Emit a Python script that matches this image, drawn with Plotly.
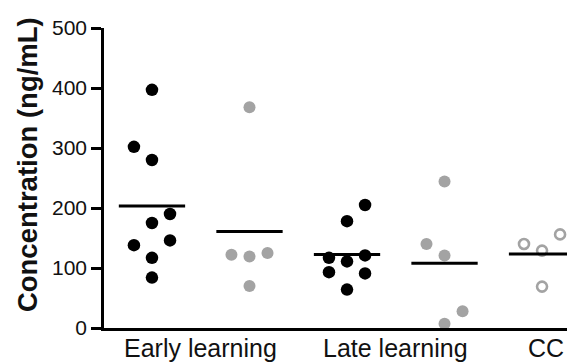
import numpy as np
import plotly.graph_objects as go

# ---- data ----
group_labels = ["Early learning", "Late learning", "CC"]
early_black = [397, 302, 280, 190, 175, 138, 146, 117, 84]
early_gray = [368, 122, 119, 125, 70]
late_black = [205, 178, 117, 111, 121, 93, 91, 64]
late_gray = [244, 140, 121, 28, 7]
cc_open = [156, 140, 129, 69]
y_ticks = [0, 100, 200, 300, 400, 500]

# ---- layout helpers (positions / styles) ----
centers = [0, 1, 2, 3, 4]
label_pos = [0.5, 2.5, 4.04]
jit = 0.185
offsets = [
    [0, -1, 0, 1, 0, -1, 1, 0, 0],
    [0, -1, 0, 1, 0],
    [1, 0, -1, 0, 1, -1, 1, 0],
    [0, -1, 0, 1, 0],
    [1, -1, 0, 0],
]
series = [early_black, early_gray, late_black, late_gray, cc_open]
BLACK = "#000000"
GRAY = "#a3a3a3"
styles = [
    dict(symbol="circle", size=12.5, color=BLACK),
    dict(symbol="circle", size=12, color=GRAY),
    dict(symbol="circle", size=12.5, color=BLACK),
    dict(symbol="circle", size=12, color=GRAY),
    dict(symbol="circle-open", size=10, color=GRAY, line=dict(width=2.6, color=GRAY)),
]

fig = go.Figure()
for c, vals, offs, st in zip(centers, series, offsets, styles):
    xs = [c + o * jit for o in offs]
    fig.add_trace(go.Scatter(x=xs, y=vals, mode="markers", marker=st,
                             showlegend=False, cliponaxis=False, hoverinfo="y"))
half = 0.34
for c, vals in zip(centers, series):
    m = float(np.mean(vals))
    fig.add_trace(go.Scatter(x=[c - half, c + half], y=[m, m], mode="lines",
                             line=dict(color=BLACK, width=3), showlegend=False,
                             hoverinfo="skip", cliponaxis=False))

FONT = "Liberation Sans, Arial, sans-serif"
TXT = "#111111"
annos = [dict(text="<b>Concentration (ng/mL)</b>", textangle=-90,
              xref="paper", yref="paper", x=0, y=0.543,
              xanchor="center", yanchor="middle", xshift=-77,
              showarrow=False, font=dict(size=27.5, family=FONT, color=TXT))]
for lp, lab in zip(label_pos, group_labels):
    annos.append(dict(text=lab, xref="x", yref="paper", x=lp, y=0,
                      xanchor="center", yanchor="middle", yshift=-20,
                      showarrow=False, font=dict(size=25, family=FONT, color=TXT)))

fig.update_layout(
    width=575, height=364,
    margin=dict(l=96, r=0, t=20, b=44),
    paper_bgcolor="white", plot_bgcolor="white",
    font=dict(family=FONT, color=TXT),
    xaxis=dict(range=[-0.492, 4.42], showgrid=False, zeroline=False,
               showline=True, linecolor="#000000", linewidth=2.5,
               showticklabels=False, ticks=""),
    yaxis=dict(range=[0, 500], showgrid=False, zeroline=False,
               showline=True, linecolor="#000000", linewidth=2.5,
               tickmode="array", tickvals=y_ticks,
               ticks="outside", ticklen=10, tickwidth=2.5, tickcolor="#000000",
               tickfont=dict(size=21, family=FONT, color=TXT)),
    annotations=annos,
)
fig.write_html("out.html")
